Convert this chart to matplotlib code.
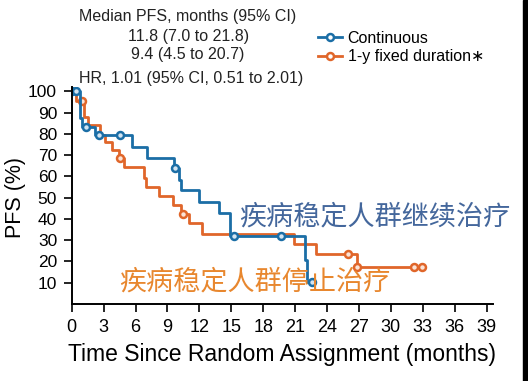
import matplotlib as mpl
mpl.use('Agg')
import matplotlib.pyplot as plt
from matplotlib.lines import Line2D
from matplotlib.patches import Rectangle

# Kaplan-Meier steps (months, PFS %)
cont_t = [0, 0.8, 1.0, 2.2, 5.7, 7.1, 9.6, 10.1, 10.3, 12.0, 13.8, 14.9, 21.9, 22.1, 22.6]
cont_s = [100, 87.5, 83.3, 79.2, 73.9, 68.7, 63.8, 58.5, 53.5, 47.8, 42.6, 31.9, 20.7, 10.5, 10.5]
cont_cens_t = [0.05, 0.45, 1.3, 2.6, 4.5, 9.75, 15.3, 19.7, 22.6]
cont_cens_s = [100, 100, 83.3, 79.2, 79.2, 63.8, 31.9, 31.9, 10.5]

fixed_t = [0, 0.4, 1.2, 1.5, 2.7, 3.1, 3.8, 4.4, 4.9, 6.8, 7.0, 8.2, 9.5, 10.3, 11.0, 12.2, 20.9, 23.0, 26.8, 32.9]
fixed_s = [100, 95.5, 88.0, 84.2, 79.5, 76.2, 72.3, 68.4, 64.2, 59.3, 55.0, 50.8, 46.3, 42.1, 37.9, 33.0, 28.2, 23.5, 17.5, 17.5]
fixed_cens_t = [1.0, 4.55, 10.45, 25.95, 26.8, 32.2, 32.9]
fixed_cens_s = [95.5, 68.4, 42.1, 23.5, 17.5, 17.5, 17.5]

xticks = list(range(0, 40, 3))
yticks = list(range(10, 101, 10))

BLUE = '#1b6ea6'
ORANGE = '#e0662a'

plt.rcParams['font.family'] = ['Liberation Sans', 'DejaVu Sans']

fig = plt.figure(figsize=(5.28, 3.81), dpi=100)
ax = fig.add_axes([0.1358, 0.2021, 0.798, 0.5696])

ax.step(fixed_t, fixed_s, where='post', color=ORANGE, lw=2)
ax.plot(fixed_cens_t, fixed_cens_s, 'o', color=ORANGE, ms=5, mew=1.8, mfc='#fbe3d6', ls='none')
ax.step(cont_t, cont_s, where='post', color=BLUE, lw=2)
ax.plot(cont_cens_t, cont_cens_s, 'o', color=BLUE, ms=5, mew=1.8, mfc='#d3e4f1', ls='none')

ax.set_xlim(0, 39.6)
ax.set_ylim(0, 102)
ax.set_xticks(xticks)
ax.set_yticks(yticks)
ax.tick_params(axis='x', labelsize=13, length=5.5, width=1.2, pad=5)
ax.tick_params(axis='y', labelsize=12.5, length=5.5, width=1.2, pad=5)
for s in ['top', 'right']:
    ax.spines[s].set_visible(False)
for s in ['left', 'bottom']:
    ax.spines[s].set_linewidth(1.4)

ax.set_xlabel('Time Since Random Assignment (months)', fontsize=16.5, labelpad=5)
fig.text(15 / 528, 1 - 197.5 / 381, 'PFS (%)', rotation=90, fontsize=15.5,
         ha='center', va='center')

# header text
fig.text(188 / 528, 1 - 16 / 381, 'Median PFS, months (95% CI)', fontsize=11.5,
         ha='center', va='center', color='#222222')
fig.text(189 / 528, 1 - 36 / 381, '11.8 (7.0 to 21.8)', fontsize=11.5,
         ha='center', va='center', color='#222222')
fig.text(188 / 528, 1 - 54 / 381, '9.4 (4.5 to 20.7)', fontsize=11.5,
         ha='center', va='center', color='#222222')
fig.text(79 / 528, 1 - 78 / 381, 'HR, 1.01 (95% CI, 0.51 to 2.01)', fontsize=11.5,
         ha='left', va='center', color='#222222')

handles = [
    Line2D([], [], color=BLUE, lw=2, marker='o', ms=5, mew=1.8, mfc='white'),
    Line2D([], [], color=ORANGE, lw=2, marker='o', ms=5, mew=1.8, mfc='white'),
]
ax.legend(handles, ['Continuous', '1-y fixed duration\u2217'], loc='upper left',
          bbox_to_anchor=(318 / 528, 1 - 31 / 381), bbox_transform=fig.transFigure,
          frameon=False, fontsize=11.5, handlelength=1.5, handletextpad=0.35,
          labelspacing=0.2, borderaxespad=0, borderpad=0)

# Chinese annotations
fig.text(239 / 528, 1 - 216.5 / 381, '疾病稳定人群继续治疗', fontsize=19.5,
         family=['Noto Sans CJK SC', 'DejaVu Sans'], color='#44679c',
         ha='left', va='center')
fig.text(119 / 528, 1 - 282 / 381, '疾病稳定人群停止治疗', fontsize=19.5,
         family=['Noto Sans CJK SC', 'DejaVu Sans'], color='#e8872e',
         ha='left', va='center')

# dark strip along the right edge
fig.patches.append(Rectangle((523 / 528, 0), 5 / 528, 1, transform=fig.transFigure,
                             color='black', zorder=10))

fig.savefig('out.png', dpi=100)
